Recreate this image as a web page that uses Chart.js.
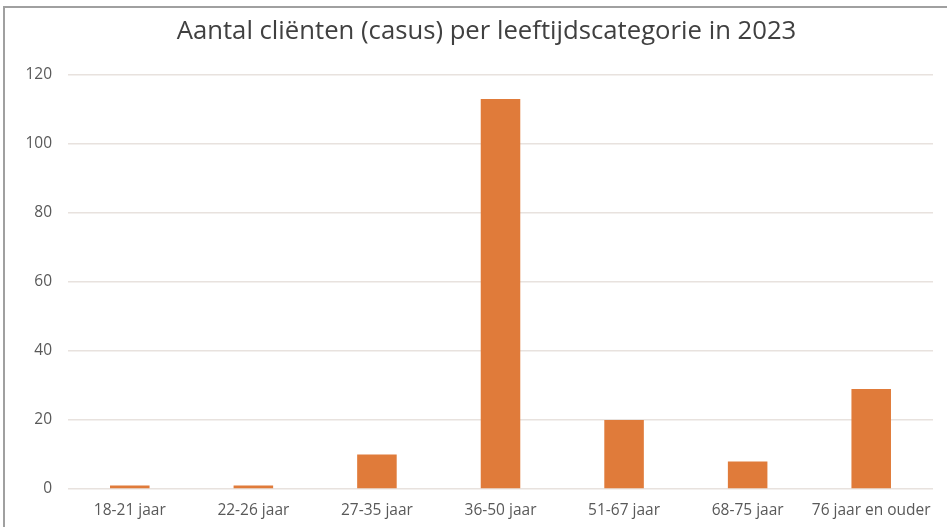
<!DOCTYPE html>
<html>
<head>
<meta charset="utf-8">
<script src="https://cdn.jsdelivr.net/npm/chart.js@4/dist/chart.umd.min.js"></script>
<style>
  html, body { margin: 0; padding: 0; background: #fff; }
  #wrap { position: relative; width: 947px; height: 527px; overflow: hidden; }
  #frame { position: absolute; left: 3px; top: 6px; width: 960px; height: 540px;
           border-left: 2px solid #a0a0a0; border-top: 2px solid #a0a0a0; }
  canvas { position: absolute; left: 0; top: 0; }
</style>
</head>
<body>
<div id="wrap">
  <div id="frame"></div>
  <canvas id="c" width="947" height="527"></canvas>
</div>
<script>
const chartTitle = 'Aantal cliënten (casus) per leeftijdscategorie in 2023';
const categories = ['18-21 jaar', '22-26 jaar', '27-35 jaar', '36-50 jaar', '51-67 jaar', '68-75 jaar', '76 jaar en ouder'];
const values = [1, 1, 10, 113, 20, 8, 29];
const yTicks = [0, 20, 40, 60, 80, 100, 120];

// shift the title's box so it is centred like the original
const titleShift = {
  id: 'titleShift',
  afterLayout(chart) {
    if (chart.titleBlock) { chart.titleBlock.left = 40; }
  }
};

new Chart(document.getElementById('c'), {
  type: 'bar',
  data: {
    labels: categories,
    datasets: [{
      data: values,
      backgroundColor: '#E07B3A',
      borderWidth: 0,
      barPercentage: 0.32,
      categoryPercentage: 1
    }]
  },
  plugins: [titleShift],
  options: {
    responsive: false,
    animation: false,
    layout: { padding: { left: 0, right: 14, top: 0, bottom: 0 } },
    plugins: {
      legend: { display: false },
      tooltip: { enabled: false },
      title: {
        display: true,
        text: chartTitle,
        color: '#404040',
        font: { family: 'Open Sans', size: 25.7, weight: 'normal' },
        padding: { top: 16, bottom: 28 }
      }
    },
    scales: {
      x: {
        afterFit: (s) => { s.height = 38; },
        grid: { display: false, drawTicks: false },
        border: { display: false },
        ticks: { color: '#595959', font: { family: 'Open Sans', size: 15.5 }, padding: 12, maxRotation: 0, autoSkip: false }
      },
      y: {
        min: 0, max: 120,
        afterBuildTicks: (s) => { s.ticks = yTicks.map(v => ({ value: v })); },
        afterFit: (s) => { s.width = 68; },
        grid: { color: '#e8e2de', lineWidth: 1.5, drawTicks: false },
        border: { display: false },
        ticks: { color: '#595959', font: { family: 'Open Sans', size: 15.5 }, padding: 16 }
      }
    }
  }
});
</script>
</body>
</html>
